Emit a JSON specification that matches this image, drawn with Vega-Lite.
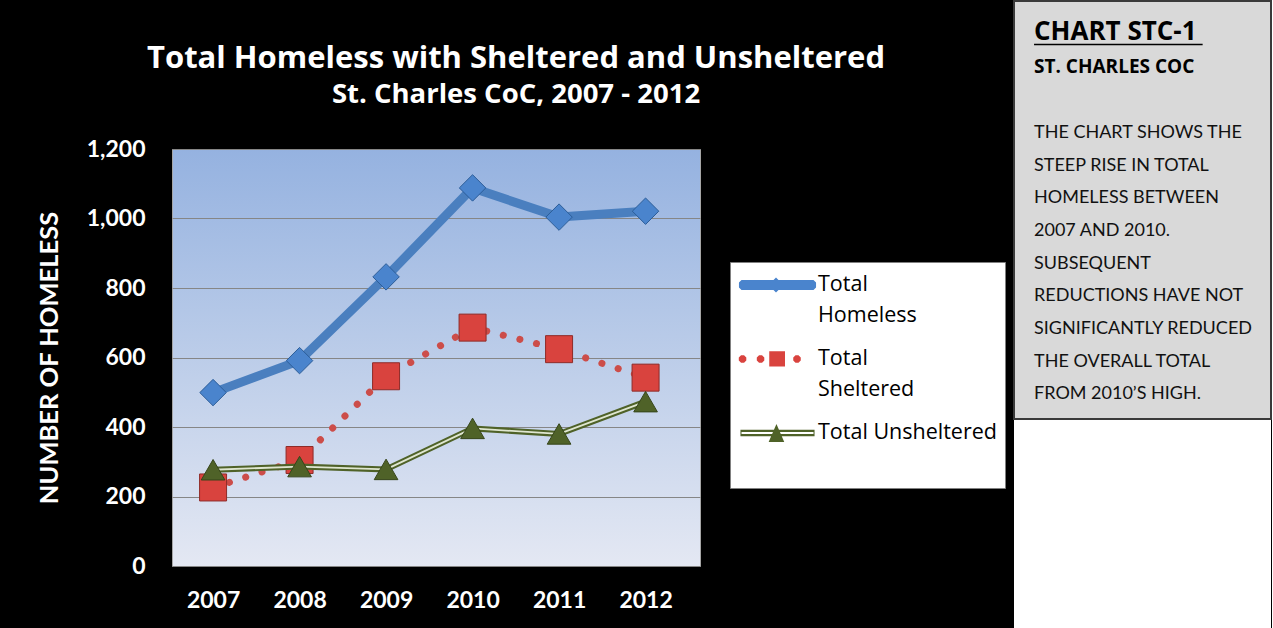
{
  "$schema": "https://vega.github.io/schema/vega-lite/v6.json",
  "background": "black",
  "padding": {"left": 36, "top": 0, "right": 0, "bottom": 0},
  "autosize": {"type": "pad"},
  "config": {"font": "Lato", "view": {"stroke": null}, "style": {"guide-label": {"lineHeight": 31}}},
  "datasets": {
    "counts": [
      {"year": "2007", "series": "Total Homeless", "value": 499},
      {"year": "2008", "series": "Total Homeless", "value": 591},
      {"year": "2009", "series": "Total Homeless", "value": 832},
      {"year": "2010", "series": "Total Homeless", "value": 1088},
      {"year": "2011", "series": "Total Homeless", "value": 1004},
      {"year": "2012", "series": "Total Homeless", "value": 1021},
      {"year": "2007", "series": "Total Sheltered", "value": 226},
      {"year": "2008", "series": "Total Sheltered", "value": 305},
      {"year": "2009", "series": "Total Sheltered", "value": 546},
      {"year": "2010", "series": "Total Sheltered", "value": 686},
      {"year": "2011", "series": "Total Sheltered", "value": 624},
      {"year": "2012", "series": "Total Sheltered", "value": 542},
      {"year": "2007", "series": "Total Unsheltered", "value": 277},
      {"year": "2008", "series": "Total Unsheltered", "value": 286},
      {"year": "2009", "series": "Total Unsheltered", "value": 278},
      {"year": "2010", "series": "Total Unsheltered", "value": 396},
      {"year": "2011", "series": "Total Unsheltered", "value": 380},
      {"year": "2012", "series": "Total Unsheltered", "value": 473}
    ],
    "titles": [
      {"line": 1, "text": "Total Homeless with Sheltered and Unsheltered"},
      {"line": 2, "text": "St. Charles CoC, 2007 - 2012"}
    ],
    "panel": [
      {"line": 1, "kind": "head", "text": "CHART STC-1"},
      {"line": 2, "kind": "sub", "text": "ST. CHARLES COC"},
      {"line": 4, "kind": "body", "text": "THE CHART SHOWS THE"},
      {"line": 5, "kind": "body", "text": "STEEP RISE IN TOTAL"},
      {"line": 6, "kind": "body", "text": "HOMELESS BETWEEN"},
      {"line": 7, "kind": "body", "text": "2007 AND 2010."},
      {"line": 8, "kind": "body", "text": "SUBSEQUENT"},
      {"line": 9, "kind": "body", "text": "REDUCTIONS HAVE NOT"},
      {"line": 10, "kind": "body", "text": "SIGNIFICANTLY REDUCED"},
      {"line": 11, "kind": "body", "text": "THE OVERALL TOTAL"},
      {"line": 12, "kind": "body", "text": "FROM 2010’S HIGH."}
    ]
  },
  "spacing": 127,
  "hconcat": [
    {
      "spacing": 10,
      "vconcat": [
        {
          "width": 688,
          "height": 126,
          "data": {"name": "titles"},
          "encoding": {
            "y": {"field": "line", "type": "quantitative", "scale": {"domain": [-0.93, 2.7], "reverse": true}, "axis": null},
            "text": {"field": "text"}
          },
          "layer": [
            {
              "transform": [{"filter": "datum.line == 1"}],
              "mark": {"type": "text", "font": "Open Sans", "fontSize": 31, "fontWeight": "bold", "color": "white", "baseline": "alphabetic", "align": "center"}
            },
            {
              "transform": [{"filter": "datum.line == 2"}],
              "mark": {"type": "text", "font": "Open Sans", "fontSize": 27.5, "fontWeight": "bold", "color": "white", "baseline": "alphabetic", "align": "center"}
            }
          ]
        },
        {
          "width": 528,
          "height": 417,
          "view": {
            "fill": {"gradient": "linear", "x1": 0, "y1": 0, "x2": 0, "y2": 1, "stops": [
              {"offset": 0, "color": "#95b2e0"},
              {"offset": 0.5, "color": "#bccde9"},
              {"offset": 1, "color": "#e4e8f3"}
            ]},
            "stroke": "#a6a6a6",
            "strokeWidth": 1
          },
          "data": {"name": "counts"},
          "encoding": {
            "x": {
              "field": "year", "type": "ordinal",
              "scale": {"type": "point", "padding": 0.552, "align": 0.43},
              "axis": {"labelAngle": 0, "title": null, "labelFontSize": 23, "labelFontWeight": "bold", "labelColor": "white", "labelFont": "Lato", "labelPadding": 23, "ticks": false, "domain": false, "grid": false}
            },
            "y": {
              "field": "value", "type": "quantitative",
              "scale": {"domain": [0, 1200], "nice": false},
              "axis": {
                "values": [0, 200, 400, 600, 800, 1000, 1200], "format": ",d",
                "title": "NUMBER OF HOMELESS", "titleFontSize": 25.5, "titleFontWeight": "bold", "titleColor": "white", "titleFont": "Lato", "titlePadding": 24,
                "labelFontSize": 23, "labelFontWeight": "bold", "labelColor": "white", "labelFont": "Lato", "labelPadding": 27,
                "ticks": false, "domain": false, "grid": true, "gridColor": "#868686", "gridWidth": 1.2
              }
            }
          },
          "layer": [
            {
              "transform": [{"filter": "datum.series == 'Total Sheltered'"}],
              "mark": {"type": "line", "stroke": "#cc4d49", "strokeWidth": 7, "strokeDash": [0.1, 17], "strokeCap": "round"}
            },
            {
              "transform": [{"filter": "datum.series == 'Total Sheltered'"}],
              "mark": {"type": "point", "shape": "square", "size": 729, "filled": true, "opacity": 1, "color": "#d9433e", "stroke": "#8e2b28", "strokeWidth": 1}
            },
            {
              "transform": [{"filter": "datum.series == 'Total Unsheltered'"}],
              "mark": {"type": "line", "stroke": "#4f6228", "strokeWidth": 6, "strokeJoin": "round"}
            },
            {
              "transform": [{"filter": "datum.series == 'Total Unsheltered'"}],
              "mark": {"type": "line", "stroke": "#dfe6d0", "strokeWidth": 1.8, "strokeJoin": "round"}
            },
            {
              "transform": [{"filter": "datum.series == 'Total Unsheltered'"}],
              "mark": {"type": "point", "shape": "triangle-up", "size": 560, "filled": true, "opacity": 1, "color": "#4f6228", "stroke": "#36451a", "strokeWidth": 1}
            },
            {
              "transform": [{"filter": "datum.series == 'Total Homeless'"}],
              "mark": {"type": "line", "stroke": "#4a7fbf", "strokeWidth": 9, "strokeJoin": "round", "strokeCap": "round"}
            },
            {
              "transform": [{"filter": "datum.series == 'Total Homeless'"}],
              "mark": {"type": "point", "shape": "diamond", "size": 700, "filled": true, "opacity": 1, "color": "#4a84cd", "stroke": "#2c5d98", "strokeWidth": 1}
            },
            {
              "mark": {"type": "point", "filled": true, "opacity": 0, "size": 900},
              "encoding": {
                "color": {
                  "field": "series", "type": "nominal",
                  "scale": {"domain": ["Total Homeless", "Total Sheltered", "Total Unsheltered"], "range": ["#4a84cd", "#d9433e", "#4f6228"]},
                  "legend": {
                    "orient": "none", "legendX": 558, "legendY": 261,
                    "title": " ", "titleOrient": "bottom", "titleFontSize": 20, "titlePadding": 16,
                    "padding": 8, "fillColor": "white", "strokeColor": "#808080",
                    "symbolSize": 900, "symbolStrokeWidth": 0, "symbolOpacity": 1, "symbolOffset": 24.5, "labelOffset": 25.5,
                    "labelFont": "Open Sans", "labelFontSize": 21.5, "labelColor": "black", "labelLimit": 300, "labelBaseline": "middle",
                    "rowPadding": 17,
                    "labelExpr": "datum.label == 'Total Homeless' ? ['Total', 'Homeless'] : datum.label == 'Total Sheltered' ? ['Total', 'Sheltered'] : datum.label"
                  }
                },
                "shape": {
                  "field": "series", "type": "nominal",
                  "scale": {
                    "domain": ["Total Homeless", "Total Sheltered", "Total Unsheltered"],
                    "range": [
                      "M-2.4,-0.33L2.4,-0.33L2.57,-0.17L2.57,0.17L2.4,0.33L-2.4,0.33L-2.57,0.17L-2.57,-0.17Z M-0.1,-0.5L0.4,0L-0.1,0.5L-0.6,0Z",
                      "M-2.58,-0.1L-2.43,-0.25L-2.23,-0.25L-2.08,-0.1L-2.08,0.1L-2.23,0.25L-2.43,0.25L-2.58,0.1Z M-1.38,-0.1L-1.23,-0.25L-1.03,-0.25L-0.88,-0.1L-0.88,0.1L-1.03,0.25L-1.23,0.25L-1.38,0.1Z M1.05,-0.1L1.2,-0.25L1.4,-0.25L1.55,-0.1L1.55,0.1L1.4,0.25L1.2,0.25L1.05,0.1Z M-0.55,-0.52L0.5,-0.52L0.5,0.5L-0.55,0.5Z",
                      "M-2.47,-0.22L2.47,-0.22L2.47,0.22L-2.47,0.22Z M-2.4,-0.07L-2.4,0.07L2.4,0.07L2.4,-0.07Z M-0.07,-0.6L0.45,0.6L-0.59,0.6Z"
                    ]
                  },
                  "legend": {
                    "orient": "none", "legendX": 558, "legendY": 261,
                    "title": " ", "titleOrient": "bottom", "titleFontSize": 20, "titlePadding": 16,
                    "padding": 8, "fillColor": "white", "strokeColor": "#808080",
                    "symbolSize": 900, "symbolStrokeWidth": 0, "symbolOpacity": 1, "symbolOffset": 24.5, "labelOffset": 25.5,
                    "labelFont": "Open Sans", "labelFontSize": 21.5, "labelColor": "black", "labelLimit": 300, "labelBaseline": "middle",
                    "rowPadding": 17,
                    "labelExpr": "datum.label == 'Total Homeless' ? ['Total', 'Homeless'] : datum.label == 'Total Sheltered' ? ['Total', 'Sheltered'] : datum.label"
                  }
                }
              }
            }
          ]
        }
      ]
    },
    {
      "spacing": 0,
      "vconcat": [
        {
          "width": 257,
          "height": 418,
          "view": {"fill": "#d9d9d9", "stroke": "#3a3a3a", "strokeWidth": 2},
          "data": {"name": "panel"},
          "encoding": {
            "x": {"datum": 0.078, "type": "quantitative", "scale": {"domain": [0, 1]}, "axis": null},
            "y": {"field": "line", "type": "quantitative", "scale": {"domain": [-0.2, 12.6], "reverse": true}, "axis": null}
          },
          "layer": [
            {
              "transform": [{"filter": "datum.kind == 'head'"}],
              "mark": {"type": "text", "align": "left", "baseline": "alphabetic", "font": "Open Sans", "fontSize": 26, "fontWeight": "bold", "color": "black"},
              "encoding": {"text": {"field": "text"}}
            },
            {
              "transform": [{"filter": "datum.kind == 'head'"}],
              "mark": {"type": "rule", "color": "black", "strokeWidth": 1.5},
              "encoding": {"x2": {"datum": 0.734}, "y": {"datum": 1.13, "type": "quantitative"}}
            },
            {
              "transform": [{"filter": "datum.kind == 'sub'"}],
              "mark": {"type": "text", "align": "left", "baseline": "alphabetic", "font": "Open Sans", "fontSize": 19, "fontWeight": "bold", "color": "black"},
              "encoding": {"text": {"field": "text"}}
            },
            {
              "transform": [{"filter": "datum.kind == 'body'"}],
              "mark": {"type": "text", "align": "left", "baseline": "alphabetic", "fontSize": 18, "color": "#111111"},
              "encoding": {"text": {"field": "text"}}
            }
          ]
        },
        {
          "width": 257,
          "height": 210,
          "view": {"fill": "white", "stroke": null},
          "data": {"values": [{"k": 1}]},
          "mark": {"type": "text"},
          "encoding": {"text": {"value": ""}}
        }
      ]
    }
  ]
}
